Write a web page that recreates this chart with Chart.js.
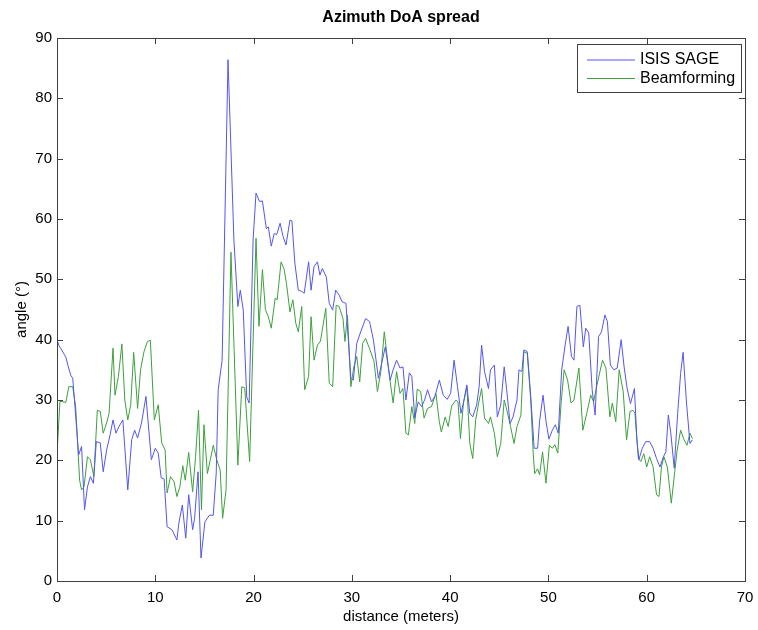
<!DOCTYPE html>
<html>
<head>
<meta charset="utf-8">
<script src="https://cdn.jsdelivr.net/npm/chart.js@4.4.1/dist/chart.umd.min.js"></script>
<style>
  html, body { margin: 0; padding: 0; background: #fff; }
  #wrap { width: 758px; height: 630px; }
</style>
</head>
<body>
<div id="wrap"><canvas id="doaChart" width="758" height="630"></canvas></div>
<script>
// ISIS SAGE series: distance (m) and angle (deg)
const sageDist = [0, 0.2, 0.4, 0.65, 0.9, 1.15, 1.4, 1.6, 1.8, 2.2, 2.5, 2.8, 3.1, 3.4, 3.7, 4.0, 4.4, 4.7, 5.05, 5.4,
  5.7, 6.0, 6.3, 6.7, 7.2, 7.6, 7.9, 8.2, 8.6, 9.05, 9.6, 10.0, 10.3, 10.6, 10.9, 11.2, 11.7, 12.2, 12.4, 12.75,
  13.1, 13.4, 13.8, 14.0, 14.35, 14.65, 15.05, 15.5, 15.9, 16.2, 16.4, 16.8, 17.4, 18.0, 18.4, 18.65, 18.95, 19.3, 19.55, 19.95,
  20.25, 20.6, 20.9, 21.3, 21.5, 21.8, 22.1, 22.35, 22.7, 23.0, 23.3, 23.7, 23.9, 24.2, 24.55, 24.9, 25.15, 25.6, 25.85, 26.15,
  26.5, 26.75, 27.0, 27.4, 27.7, 28.05, 28.35, 28.7, 29.0, 29.4, 29.9, 30.15, 30.5, 30.9, 31.4, 31.8, 32.2, 32.7, 33.0, 33.4,
  33.9, 34.2, 34.55, 34.9, 35.2, 35.5, 35.85, 36.1, 36.4, 36.75, 37.1, 37.4, 37.7, 38.1, 38.45, 38.9, 39.3, 39.7, 40.05, 40.4,
  40.75, 41.1, 41.35, 41.7, 42.0, 42.3, 42.7, 42.95, 43.2, 43.5, 43.9, 44.1, 44.5, 44.8, 45.15, 45.5, 45.75, 46.1, 46.4, 46.8,
  47.0, 47.3, 47.5, 47.85, 48.2, 48.55, 48.9, 49.1, 49.45, 49.75, 50.05, 50.4, 50.7, 51.0, 51.35, 51.7, 52.0, 52.35, 52.6, 52.9,
  53.2, 53.55, 53.8, 54.1, 54.45, 54.75, 55.1, 55.4, 55.75, 56.0, 56.3, 56.65, 57.0, 57.4, 57.7, 58.0, 58.35, 58.75, 59.0, 59.2,
  59.55, 59.9, 60.3, 60.65, 61.0, 61.35, 61.7, 61.95, 62.2, 62.45, 62.8, 63.15, 63.45, 63.7, 64.05, 64.4, 64.65];
const sageAngle = [40, 39, 38.5, 37.8, 37.1, 35.5, 34.1, 33.6, 29.5, 20.9, 22.3, 11.8, 15.6, 17.3, 16.2, 23.1, 22.9, 18.1, 21.7, 24.2,
  26.7, 24.5, 25.6, 26.7, 15.1, 23.4, 25.0, 23.7, 26.2, 30.6, 20.1, 22.0, 21.2, 17.1, 16.9, 9.0, 8.5, 6.8, 9.6, 12.6,
  7.1, 14.3, 8.5, 10.4, 18.1, 3.8, 9.8, 10.9, 10.9, 17.9, 31.7, 36.6, 86.4, 56.5, 45.5, 48.2, 44.9, 30.5, 29.5, 56.5,
  64.3, 62.9, 63.0, 58.4, 58.7, 55.5, 57.6, 57.4, 59.3, 57.1, 55.7, 59.8, 59.7, 52.7, 48.2, 48.0, 47.7, 52.9, 48.2, 52.1,
  52.9, 50.7, 51.8, 50.4, 46.0, 44.9, 48.2, 47.4, 46.3, 46.0, 33.6, 33.3, 39.4, 41.3, 43.5, 43.0, 39.9, 33.6, 35.8, 38.8,
  33.3, 35.0, 36.6, 35.3, 35.5, 30.0, 34.5, 33.9, 27.0, 29.7, 28.9, 30.0, 31.7, 29.7, 30.6, 33.3, 30.8, 30.1, 31.1, 36.6,
  32.2, 27.8, 29.5, 32.5, 27.8, 27.2, 29.2, 32.2, 39.1, 34.7, 31.9, 35.0, 35.8, 27.2, 29.2, 35.5, 31.7, 26.1, 27.2, 30.0,
  35.0, 34.7, 38.3, 38.0, 30.6, 22.0, 22.0, 26.5, 30.8, 26.5, 23.5, 25.0, 25.9, 24.5, 35.0, 39.1, 42.2, 37.2, 36.6, 45.5,
  45.7, 38.8, 41.9, 41.1, 31.7, 27.5, 40.5, 41.3, 44.1, 43.0, 35.8, 35.0, 35.3, 40.0, 35.5, 32.0, 29.4, 31.9, 23.4, 20.1,
  22.0, 23.1, 23.1, 22.0, 20.3, 18.9, 20.6, 21.4, 27.5, 24.5, 18.7, 27.8, 34.4, 37.9, 29.5, 22.8, 23.4];

// Beamforming series
const bfDist = [0, 0.3, 0.9, 1.2, 1.6, 1.9, 2.3, 2.5, 2.75, 3.1, 3.4, 3.75, 4.1, 4.4, 4.7, 5.05, 5.3, 5.7, 5.9, 6.25,
  6.6, 6.9, 7.2, 7.5, 7.8, 8.2, 8.5, 8.85, 9.2, 9.5, 9.9, 10.3, 10.65, 11.0, 11.2, 11.55, 11.9, 12.2, 12.5, 12.8,
  13.05, 13.4, 13.8, 14.1, 14.4, 14.7, 14.95, 15.3, 15.6, 15.9, 16.25, 16.6, 16.85, 17.2, 17.7, 18.4, 18.8, 19.1, 19.6, 20.25,
  20.55, 20.9, 21.2, 21.5, 21.8, 22.2, 22.4, 22.8, 23.1, 23.35, 23.7, 24.0, 24.3, 24.55, 24.9, 25.2, 25.6, 25.85, 26.15, 26.5,
  26.8, 27.35, 27.7, 28.05, 28.4, 28.7, 29.1, 29.3, 29.55, 29.9, 30.2, 30.5, 30.8, 31.1, 31.4, 31.85, 32.25, 32.6, 32.95, 33.3,
  33.65, 33.9, 34.2, 34.55, 34.9, 35.2, 35.5, 35.75, 36.1, 36.4, 36.65, 37.0, 37.35, 37.7, 38.1, 38.55, 38.9, 39.1, 39.5, 39.8,
  40.15, 40.6, 40.8, 41.05, 41.35, 41.7, 42.0, 42.3, 42.6, 42.9, 43.2, 43.5, 43.9, 44.1, 44.5, 44.8, 45.15, 45.5, 45.8, 46.15,
  46.5, 46.8, 47.2, 47.5, 47.85, 48.2, 48.45, 48.6, 48.9, 49.1, 49.4, 49.75, 50.1, 50.4, 50.65, 50.95, 51.3, 51.6, 51.95, 52.3,
  52.6, 53.1, 53.5, 53.9, 54.3, 54.6, 54.9, 55.5, 55.85, 56.25, 56.5, 56.85, 57.2, 57.6, 57.95, 58.3, 58.6, 58.8, 59.15, 59.4,
  59.7, 60.0, 60.3, 60.65, 61.0, 61.25, 61.5, 61.75, 62.1, 62.5, 62.85, 63.1, 63.45, 63.8, 64.1, 64.4, 64.65];
const bfAngle = [21, 29.8, 29.6, 32.2, 32.2, 28.9, 16.7, 15.1, 15.6, 20.6, 20.1, 17.3, 28.3, 28.1, 24.5, 26.2, 27.8, 38.6, 30.8, 33.9,
  39.3, 30.0, 26.7, 29.2, 37.9, 28.6, 35.0, 38.0, 39.7, 39.9, 26.7, 29.2, 22.9, 21.7, 14.6, 17.3, 16.5, 14.0, 15.6, 19.1,
  16.7, 21.3, 14.8, 20.6, 28.3, 11.8, 25.9, 17.8, 20.1, 22.5, 20.1, 18.4, 10.4, 15.1, 54.5, 19.2, 32.2, 32.0, 19.8, 56.8,
  42.2, 51.6, 45.0, 43.8, 41.9, 46.9, 46.6, 52.9, 51.7, 49.3, 44.6, 46.6, 42.7, 41.3, 45.5, 31.7, 33.9, 43.8, 36.6, 39.1,
  39.7, 45.2, 32.8, 32.2, 45.7, 45.5, 43.5, 39.7, 44.1, 32.2, 35.5, 37.2, 33.0, 39.4, 40.2, 38.3, 36.4, 31.4, 34.7, 41.3,
  36.4, 33.0, 29.5, 34.7, 31.1, 31.9, 24.5, 24.2, 28.9, 26.1, 31.8, 31.4, 27.0, 28.6, 28.9, 31.1, 26.4, 24.7, 27.2, 25.6,
  29.0, 30.0, 29.7, 23.6, 29.5, 32.2, 22.8, 20.3, 26.7, 29.5, 31.9, 27.0, 26.1, 27.2, 24.5, 20.6, 22.8, 30.0, 28.1, 25.6,
  22.8, 25.6, 27.5, 38.0, 37.7, 30.0, 21.2, 17.8, 18.6, 17.6, 21.4, 16.2, 22.5, 22.0, 22.6, 21.2, 29.7, 35.0, 33.3, 29.5,
  30.0, 35.3, 25.0, 27.8, 30.8, 29.7, 32.2, 36.6, 35.3, 27.2, 29.5, 26.4, 35.0, 31.5, 23.4, 28.1, 28.3, 27.8, 20.3, 19.8,
  21.1, 18.9, 20.6, 18.9, 14.3, 14.0, 18.9, 20.6, 18.9, 12.9, 18.1, 21.7, 25.0, 23.4, 22.5, 24.5, 23.6];

const xTicks = [0, 10, 20, 30, 40, 50, 60, 70];
const yTicks = [0, 10, 20, 30, 40, 50, 60, 70, 80, 90];
const chartTitle = 'Azimuth DoA spread';

const toPoints = (xs, ys) => xs.map((x, i) => ({ x: x, y: ys[i] }));

const axisColor = '#404040';
const fontFamily = '"Liberation Sans", Arial, sans-serif';

// MATLAB-like box with inward ticks on all four sides, the title above the axes and the boxed legend
const matlabBox = {
    id: 'matlabBox',
    afterDraw(chart) {
        const ctx = chart.ctx;
        const area = chart.chartArea;
        const xs = chart.scales.x;
        const ys = chart.scales.y;
        const tl = 6;
        ctx.save();
        ctx.strokeStyle = axisColor;
        ctx.lineWidth = 1;
        ctx.strokeRect(Math.round(area.left) + 0.5, Math.round(area.top) + 0.5,
            Math.round(area.right - area.left), Math.round(area.bottom - area.top));
        ctx.beginPath();
        xTicks.forEach(v => {
            const px = Math.round(xs.getPixelForValue(v)) + 0.5;
            ctx.moveTo(px, area.bottom); ctx.lineTo(px, area.bottom - tl);
            ctx.moveTo(px, area.top); ctx.lineTo(px, area.top + tl);
        });
        yTicks.forEach(v => {
            const py = Math.round(ys.getPixelForValue(v)) + 0.5;
            ctx.moveTo(area.left, py); ctx.lineTo(area.left + tl, py);
            ctx.moveTo(area.right, py); ctx.lineTo(area.right - tl, py);
        });
        ctx.stroke();

        // title, centred over the axes
        ctx.fillStyle = '#000';
        ctx.font = 'bold 16px ' + fontFamily;
        ctx.textAlign = 'center';
        ctx.textBaseline = 'middle';
        ctx.fillText(chartTitle, (area.left + area.right) / 2, 18);

        // legend box
        const lx = 577.5, ly = 44.5, lw = 164, lh = 48;
        ctx.fillStyle = '#fff';
        ctx.fillRect(lx, ly, lw, lh);
        ctx.strokeRect(lx, ly, lw, lh);
        ctx.font = '16px ' + fontFamily;
        ctx.textAlign = 'left';
        chart.data.datasets.forEach((ds, i) => {
            const rowY = 60 + i * 18.5;
            ctx.strokeStyle = ds.borderColor;
            ctx.beginPath();
            ctx.moveTo(587, rowY); ctx.lineTo(635, rowY);
            ctx.stroke();
            ctx.fillStyle = '#000';
            ctx.fillText(ds.label, 640, rowY);
        });
        ctx.restore();
    }
};

new Chart(document.getElementById('doaChart').getContext('2d'), {
    type: 'line',
    data: {
        datasets: [
            {
                label: 'ISIS SAGE',
                data: toPoints(sageDist, sageAngle),
                borderColor: 'rgb(85, 85, 240)',
                borderWidth: 1,
                pointRadius: 0,
                tension: 0
            },
            {
                label: 'Beamforming',
                data: toPoints(bfDist, bfAngle),
                borderColor: 'rgb(60, 160, 60)',
                borderWidth: 1,
                pointRadius: 0,
                tension: 0
            }
        ]
    },
    options: {
        responsive: false,
        animation: false,
        layout: { padding: { left: 0, right: 13, top: 38, bottom: 0 } },
        scales: {
            x: {
                type: 'linear',
                min: 0,
                max: 70,
                afterBuildTicks: s => { s.ticks = xTicks.map(v => ({ value: v })); },
                afterFit: s => { s.height = 49; s.paddingLeft = 0; s.paddingRight = 0; },
                grid: { display: false, drawTicks: false },
                border: { display: false },
                ticks: { color: '#000', font: { family: fontFamily, size: 15 }, padding: 8, maxRotation: 0 },
                title: { display: true, text: 'distance (meters)', color: '#000',
                    font: { family: fontFamily, size: 15 }, padding: { top: 0, bottom: 4 } }
            },
            y: {
                min: 0,
                max: 90,
                afterBuildTicks: s => { s.ticks = yTicks.map(v => ({ value: v })); },
                afterFit: s => { s.width = 57; },
                grid: { display: false, drawTicks: false },
                border: { display: false },
                ticks: { color: '#000', font: { family: fontFamily, size: 15 }, padding: 5 },
                title: { display: true, text: 'angle (°)', color: '#000',
                    font: { family: fontFamily, size: 15 }, padding: { top: 13, bottom: 0 } }
            }
        },
        plugins: {
            legend: { display: false },
            tooltip: { enabled: false },
            title: { display: false }
        }
    },
    plugins: [matlabBox]
});
</script>
</body>
</html>
